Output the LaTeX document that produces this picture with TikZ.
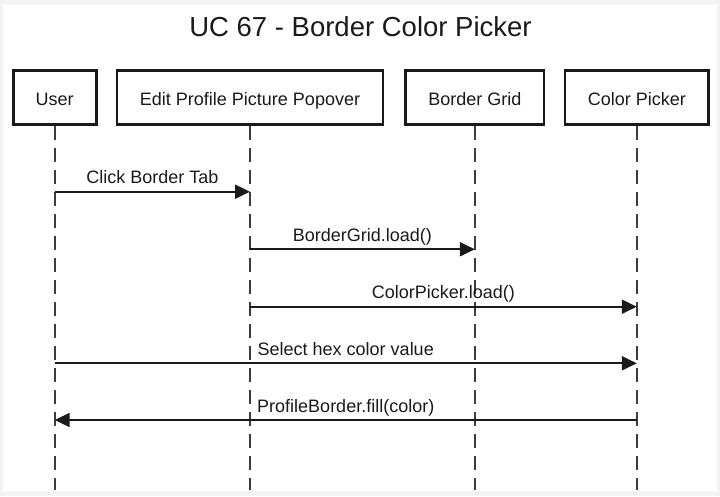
\documentclass[tikz,border=0pt]{standalone}
\usepackage{fontspec}
\setmainfont{Liberation Sans}
\usetikzlibrary{arrows.meta}

\definecolor{pagegray}{HTML}{F3F3F3}
\definecolor{ink}{HTML}{1A1A1A}

\begin{document}
\begin{tikzpicture}[
	x=1pt, y=-1pt,
	actor/.style={ draw=ink, line width=2.6pt, inner sep=0pt, minimum height=54.5pt, text height=16pt, text depth=0pt, font=\fontsize{18}{20}\selectfont, text=ink },
	lifeline/.style={ draw=ink!85, line width=1.8pt, dash pattern=on 14pt off 8pt },
	msg/.style={ draw=ink, line width=2pt, -{Triangle[length=15pt,width=14pt]} },
	lbl/.style={ anchor=base, yshift=8pt, font=\fontsize{18}{20}\selectfont, text=ink, inner sep=0pt }
]

% page
\fill[pagegray] (0,0) rectangle (720,496);
\fill[white] (3,5) rectangle (717,491);
\useasboundingbox (0,0) rectangle (720,496);

\node at (360.5,36) (title) [anchor=base, font=\fontsize{27.5}{30}\selectfont, text=ink] {UC 67 - Border Color Picker};

% participants
\node at (54.7,97.5) (user) [actor, minimum width=83pt] {User};
\node at (250,97.5) (popover) [actor, minimum width=266pt] {Edit Profile Picture Popover};
\node at (474.8,97.5) (grid) [actor, minimum width=138.4pt] {Border Grid};
\node at (636.8,97.5) (picker) [actor, minimum width=143.7pt] {Color Picker};

\coordinate (bottom) at (0,490);
\foreach \p in {user,popover,grid,picker} \draw[lifeline] (\p) to (\p |- bottom);

% messages
\coordinate (m1) at (0,191.7);
\coordinate (m2) at (0,249.3);
\coordinate (m3) at (0,306.7);
\coordinate (m4) at (0,363.3);
\coordinate (m5) at (0,420);

\draw[msg] (user |- m1) -- node[lbl] {Click Border Tab} (popover |- m1);
\draw[msg] (popover |- m2) -- node[lbl] {BorderGrid.load()} (grid |- m2);
\draw[msg] (popover |- m3) -- node[lbl] {ColorPicker.load()} (picker |- m3);
\draw[msg] (user |- m4) -- node[lbl] {Select hex color value} (picker |- m4);
\draw[msg] (picker |- m5) -- node[lbl] {ProfileBorder.fill(color)} (user |- m5);

\end{tikzpicture}
\end{document}
